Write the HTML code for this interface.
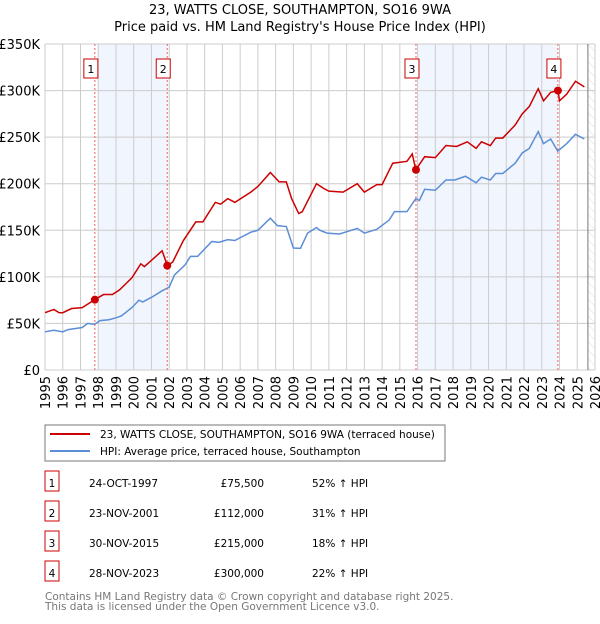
<!DOCTYPE html>
<html><head><meta charset="utf-8">
<style>
body{margin:0;background:#fff;font-family:"DejaVu Sans","Liberation Sans",sans-serif;}
svg text{font-family:"DejaVu Sans","Liberation Sans",sans-serif;}
</style></head>
<body>
<svg id="chart" width="600" height="620">
<defs>
<pattern id="hatch" width="6" height="6" patternUnits="userSpaceOnUse" patternTransform="rotate(-45)">
<line x1="0" y1="0" x2="0" y2="6" stroke="#ddd" stroke-width="1"/>
</pattern>
</defs>
<text x="300" y="14" text-anchor="middle" font-size="13">23, WATTS CLOSE, SOUTHAMPTON, SO16 9WA</text>
<text x="300" y="31" text-anchor="middle" font-size="13">Price paid vs. HM Land Registry's House Price Index (HPI)</text>
<g id="plot"></g>
<rect x="45" y="425" width="400" height="36" fill="#fff" stroke="#777"/>
<line x1="50" y1="434" x2="90" y2="434" stroke="#cc0000" stroke-width="2"/>
<text x="100" y="438" font-size="10.5">23, WATTS CLOSE, SOUTHAMPTON, SO16 9WA (terraced house)</text>
<line x1="50" y1="451" x2="90" y2="451" stroke="#5b8ed6" stroke-width="2"/>
<text x="100" y="455" font-size="10.5">HPI: Average price, terraced house, Southampton</text>
<g id="table" font-size="10.5"></g>
<text x="45" y="600" font-size="10.5" fill="#777">Contains HM Land Registry data © Crown copyright and database right 2025.</text>
<text x="45" y="610" font-size="10.5" fill="#777">This data is licensed under the Open Government Licence v3.0.</text>
</svg>
<script>
const redYears=[1995.0,1995.5,1995.8,1996.0,1996.5,1997.1,1997.8,1998.3,1998.8,1999.2,1999.9,2000.4,2000.6,2000.9,2001.6,2001.9,2002.2,2002.8,2003.5,2003.9,2004.6,2004.9,2005.3,2005.7,2006.6,2007.0,2007.7,2008.2,2008.6,2008.9,2009.3,2009.5,2010.3,2010.7,2011.0,2011.8,2012.6,2013.0,2013.7,2014.0,2014.6,2015.4,2015.7,2015.9,2016.4,2017.0,2017.6,2018.2,2018.8,2019.3,2019.6,2020.1,2020.4,2020.8,2021.5,2021.9,2022.3,2022.8,2023.1,2023.5,2023.9,2024.0,2024.4,2024.9,2025.4];
const redVals=[61.5,65,61.5,61.5,66,67,75.5,81,81,86,99,114,111,116,128,112,116,139,159,159,180,178,184,180,191,197,212,202,202,184,168,170,200,195,192,191,200,191,199,199,222,224,232,215,229,228,241,240,245,238,245,241,249,249,263,275,283,302,289,298,300,289,296,310,304];
const blueYears=[1995.0,1995.5,1996.0,1996.3,1997.1,1997.4,1997.8,1998.1,1998.6,1999.0,1999.3,1999.9,2000.3,2000.5,2001.0,2001.6,2002.0,2002.3,2002.9,2003.2,2003.6,2004.4,2004.8,2005.3,2005.7,2006.6,2007.0,2007.7,2008.1,2008.6,2009.0,2009.4,2009.8,2010.3,2010.5,2010.9,2011.6,2012.6,2013.0,2013.7,2014.4,2014.7,2015.4,2015.9,2016.1,2016.4,2017.0,2017.6,2018.1,2018.7,2019.3,2019.6,2020.1,2020.4,2020.8,2021.5,2021.9,2022.3,2022.8,2023.1,2023.5,2023.9,2024.4,2024.9,2025.4];
const blueVals=[41,42.6,41,43.4,45.6,50,49,53,54,56,58,67,75,73,78,85,89,102,113,122,122,138,137,140,139,148,150,163,155,154,131,130.6,147,153,150,147,146,152,147,151,161,170,170,184,182,194,193,204,204,208,201,207,204,211,211,222,233,238,256,243,248,235,243,253,248];
const saleLabels=["1","2","3","4"];
const saleYears=[1997.81,2001.89,2015.91,2023.91];
const saleVals=[75.5,112,215,300];
const saleDates=["24-OCT-1997","23-NOV-2001","30-NOV-2015","28-NOV-2023"];
const salePrices=["£75,500","£112,000","£215,000","£300,000"];
const saleHpi=["52% ↑ HPI","31% ↑ HPI","18% ↑ HPI","22% ↑ HPI"];
const yTicks=[0,50,100,150,200,250,300,350];
const yTickLabels=["£0","£50K","£100K","£150K","£200K","£250K","£300K","£350K"];
const xTicks=[1995,1996,1997,1998,1999,2000,2001,2002,2003,2004,2005,2006,2007,2008,2009,2010,2011,2012,2013,2014,2015,2016,2017,2018,2019,2020,2021,2022,2023,2024,2025,2026];

const X0=45,X1=595,Y0=370,Y1=44;
const xs=y=>X0+(y-1995)/31*(X1-X0);
const ys=v=>Y0-v/350*(Y0-Y1);
const NS="http://www.w3.org/2000/svg";
const plot=document.getElementById('plot');
function mk(tag,attrs,parent){const e=document.createElementNS(NS,tag);for(const k in attrs)e.setAttribute(k,attrs[k]);(parent||plot).appendChild(e);return e;}

let s1=mk('rect',{x:xs(1998),y:Y1,width:xs(saleYears[1])-xs(1998),height:Y0-Y1,fill:'#eef3fc',opacity:0.8});


let s2=mk('rect',{x:xs(2016),y:Y1,width:xs(saleYears[3])-xs(2016),height:Y0-Y1,fill:'#eef3fc',opacity:0.8});


let h=mk('rect',{x:xs(2025.6),y:Y1,width:X1-xs(2025.6),height:Y0-Y1,fill:'url(#hatch)'});



yTicks.forEach((v,i)=>{
  let l=mk('line',{x1:X0,x2:X1,y1:ys(v),y2:ys(v),stroke:'#ccc'});
  
  
  let t=mk('text',{x:X0-5,y:ys(v)+5,'text-anchor':'end','font-size':13});
  t.textContent=yTickLabels[i];
  
  
});
xTicks.forEach(y=>{
  let l=mk('line',{x1:xs(y),x2:xs(y),y1:Y1,y2:Y0,stroke:'#ccc'});
  
  
  let t=mk('text',{x:0,y:0,'font-size':13,'text-anchor':'end',transform:`translate(${xs(y)+5},${Y0+6}) rotate(-90)`});
  t.textContent=y;
  
  
});
let bl=mk('line',{x1:xs(2025.6),x2:xs(2025.6),y1:Y1,y2:Y0,stroke:'#777'});



let bp=mk('polyline',{points:blueYears.map((y,i)=>xs(y)+','+ys(blueVals[i])).join(' '),fill:'none',stroke:'#5b8ed6','stroke-width':1.5});


let rp=mk('polyline',{points:redYears.map((y,i)=>xs(y)+','+ys(redVals[i])).join(' '),fill:'none',stroke:'#cc0000','stroke-width':1.5});



saleYears.forEach((y,i)=>{
  let d=mk('line',{x1:xs(y),x2:xs(y),y1:Y1,y2:Y0,stroke:'#f06060','stroke-dasharray':'2,2'});
  
  
  let b=mk('rect',{x:xs(y)-11,y:59,width:14,height:19,fill:'#fff',stroke:'#cc0000'});
  
  
  let t=mk('text',{x:xs(y)-4,y:73,'text-anchor':'middle','font-size':11});
  t.textContent=saleLabels[i];
  
  
  let p=mk('circle',{cx:xs(y),cy:ys(saleVals[i]),r:4,fill:'#cc0000'});
  
  
});

const tb=document.getElementById('table');
saleLabels.forEach((s,i)=>{
  const yy=483+i*30;
  let b=mk('rect',{x:45,y:yy-12,width:14,height:20,fill:'#fff',stroke:'#cc0000'},tb);
  
  
  const cells=[[52,s,'middle'],[89,saleDates[i],'start'],[264,salePrices[i],'end'],[312,saleHpi[i],'start']];
  cells.forEach(c=>{
    let t=mk('text',{x:c[0],y:yy+4,'text-anchor':c[2]},tb);
    t.textContent=c[1];
    
    
  });
});
</script>
</body></html>
